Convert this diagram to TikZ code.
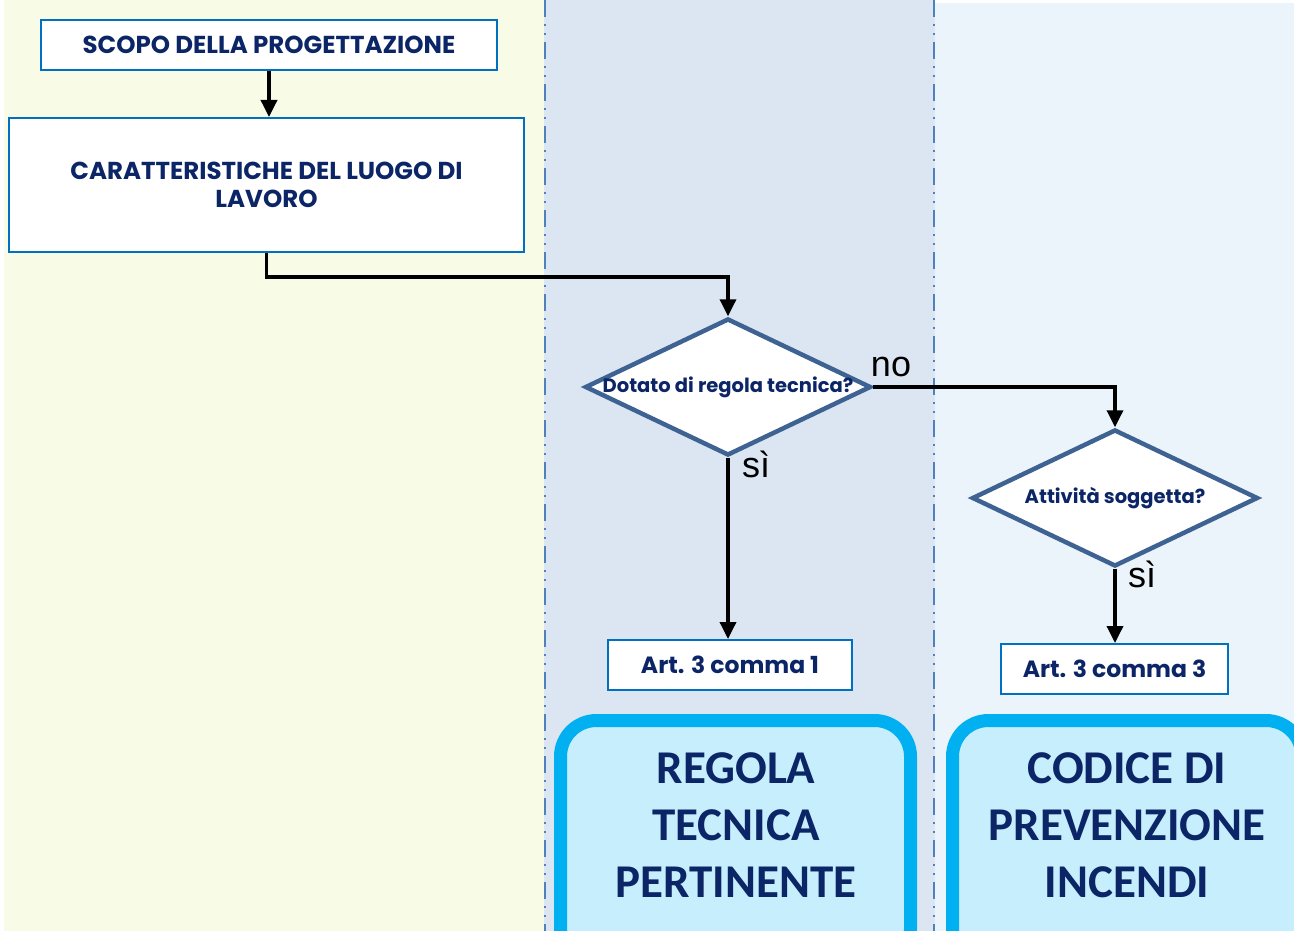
\documentclass[tikz,border=0pt]{standalone}
\usepackage{fontspec}
\setmainfont{Poppins}
\newfontfamily\bigfont{Carlito}
\newfontfamily\labelfont{Liberation Sans}
\usetikzlibrary{shapes.geometric,arrows.meta}

\definecolor{navy}{HTML}{0B2566}
\definecolor{boxblue}{HTML}{0070C0}
\definecolor{steel}{HTML}{3E6393}
\definecolor{cyanline}{HTML}{00B0F0}
\definecolor{cyanfill}{HTML}{C6EEFC}
\definecolor{laneA}{HTML}{F8FCE6}
\definecolor{laneB}{HTML}{DCE6F2}
\definecolor{laneC}{HTML}{EAF4FA}
\definecolor{divline}{HTML}{4F81BD}

\begin{document}
\begin{tikzpicture}[x=1pt,y=-1pt,
        box/.style={draw=boxblue,line width=2pt,fill=white,inner sep=0pt,text=navy,align=center,
                    font=\bfseries\fontsize{24.5}{28}\selectfont},
        artbox/.style={box,minimum height=50pt,font=\bfseries\fontsize{23.5}{28}\selectfont},
        decision/.style={diamond,draw=steel,line width=4.5pt,fill=white,inner sep=0pt,
                    minimum width=286pt,minimum height=137pt},
        question/.style={text=navy,font=\bfseries\fontsize{19.5}{22}\selectfont},
        goal/.style={draw=cyanline,line width=13pt,fill=cyanfill,rounded corners=36pt},
        goaltext/.style={text=navy,align=center,font=\bigfont\bfseries\fontsize{47}{57}\selectfont},
        answer/.style={font=\labelfont\fontsize{36}{36}\selectfont},
        flow/.style={line width=3.5pt,-{Triangle[length=17pt,width=16pt]}},
        divider/.style={divline,line width=1.5pt,dash pattern=on 17pt off 7pt on 2pt off 7pt on 2pt off 7pt}]

    \clip (0,0) rectangle (1294,931);

    % lanes
    \fill [white] (0,0) rectangle (1294,931);
    \fill [laneA] (4,0) rectangle (544,931);
    \fill [laneB] (544,0) rectangle (935,931);
    \fill [laneC] (935,3) rectangle (1294,931);
    \draw [divider] (545,0) -- (545,931);
    \draw [divider] (934,0) -- (934,931);

    % boxes
    \node [box,minimum width=456pt,minimum height=50pt] (scopo) at (269,45) {SCOPO DELLA PROGETTAZIONE};
    \node [box,minimum width=515pt,minimum height=134pt] (luogo) at (266.5,185)
        {CARATTERISTICHE DEL LUOGO DI\\LAVORO};
    \node [decision] (dotato) at (728,387) {};
    \node [question] at (dotato) {Dotato di regola tecnica?};
    \node [decision] (soggetta) at (1115,498) {};
    \node [question] at (soggetta) {Attività soggetta?};
    \node [artbox,minimum width=244pt] (comma1) at (730,665) {Art. 3 comma 1};
    \node [artbox,minimum width=227pt] (comma3) at (1114.5,669) {Art. 3 comma 3};

    % outcomes
    \draw [goal] (560.5,720.5) rectangle (910.5,965);
    \draw [goal] (952.5,720.5) rectangle (1302,965);
    \node [goaltext] (regola) at (736,825) {REGOLA\\TECNICA\\PERTINENTE};
    \node [goaltext] (codice) at (1127,825) {CODICE DI\\PREVENZIONE\\INCENDI};

    % connectors
    \draw [flow] (scopo.south) -- (scopo.south |- luogo.north);
    \draw [flow] (luogo.south) -- ++(0,24) -| (dotato.north);
    \draw [flow] (dotato.east) -| (soggetta.north);
    \draw [flow] (dotato.south) -- (dotato.south |- comma1.north);
    \draw [flow] (soggetta.south) -- (soggetta.south |- comma3.north);

    \node [answer] (no) at (891,367) {no};
    \node [answer] (si1) at (756,464) {sì};
    \node [answer] (si2) at (1142,574) {sì};
\end{tikzpicture}
\end{document}
